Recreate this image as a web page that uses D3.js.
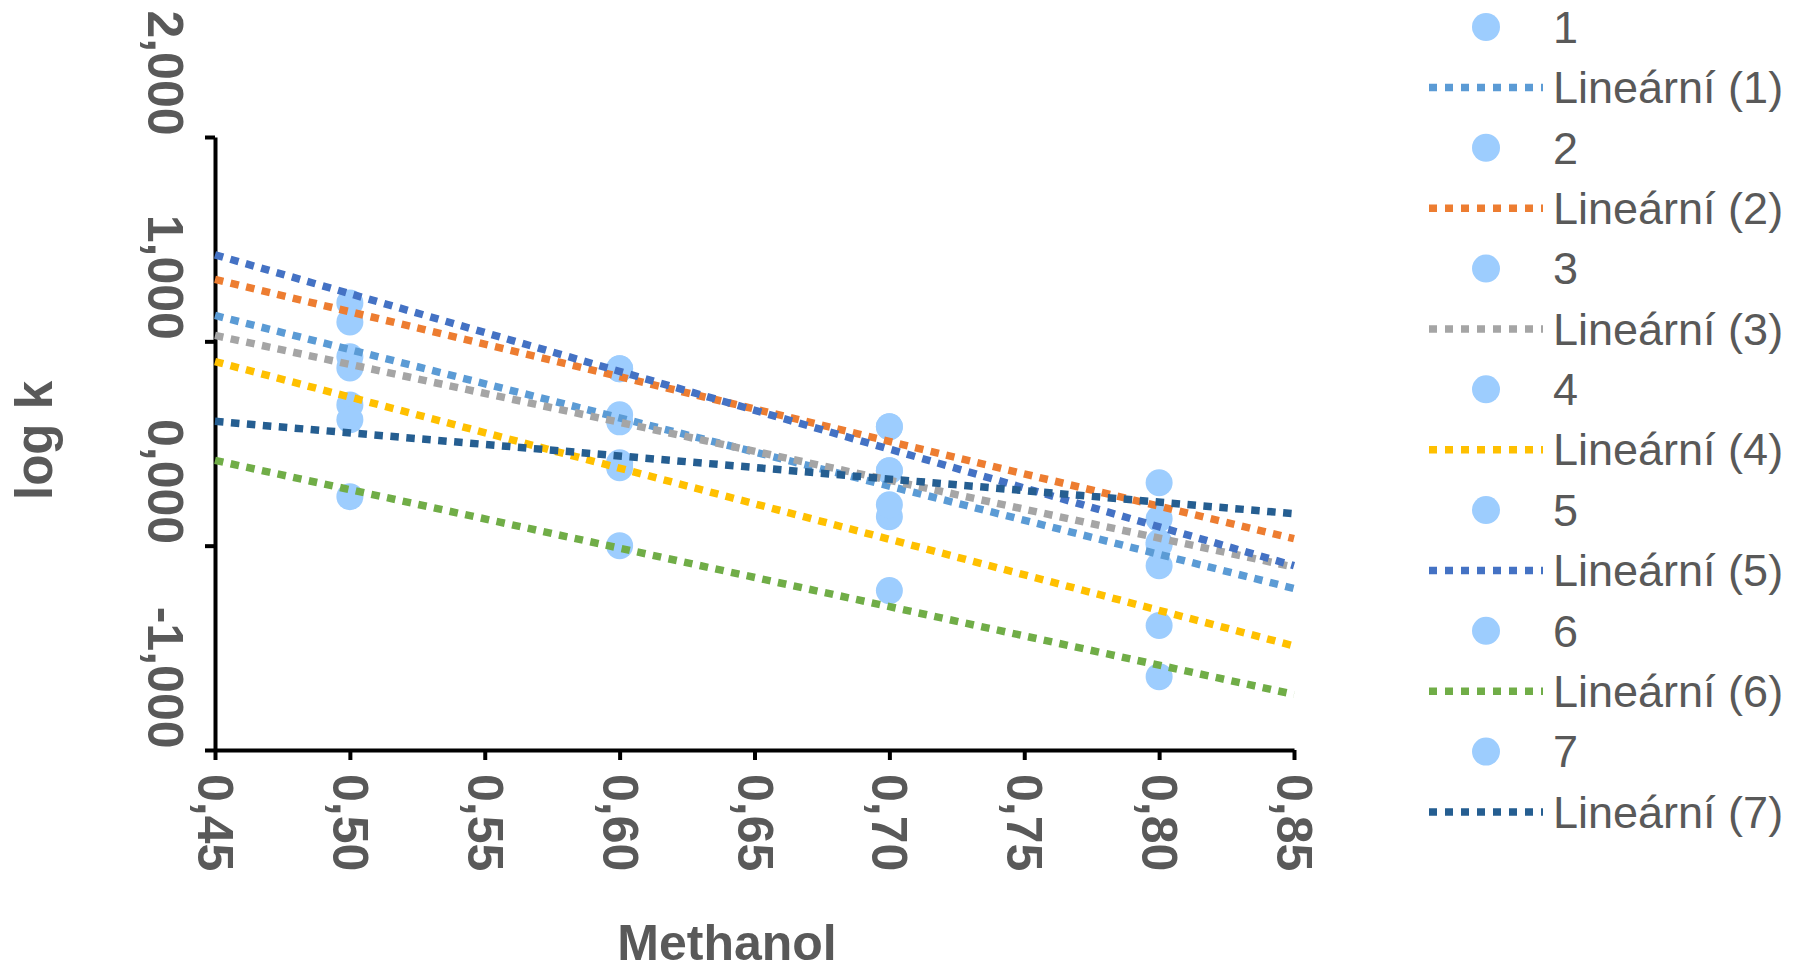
<!DOCTYPE html>
<html>
<head>
<meta charset="utf-8">
<script src="https://cdn.jsdelivr.net/npm/d3@7"></script>
<style>
  body { margin: 0; background: #fff; }
  svg { display: block; font-family: "Liberation Sans", Arial, sans-serif; }
</style>
</head>
<body>
<div id="chart"></div>
<script>
// methanol fraction, same for every series
const methanol = [0.5, 0.6, 0.7, 0.8];

// log k per series
const s1 = [0.924, 0.641, 0.367, -0.098];
const s2 = [1.095, 0.866, 0.582, 0.132];
const s3 = [0.870, 0.606, 0.367, 0.005];
const s4 = [0.689, 0.381, 0.142, -0.391];
const s5 = [1.188, 0.866, 0.582, 0.015];
const s6 = [0.240, 0.000, -0.220, -0.641];
const s7 = [0.616, 0.406, 0.200, 0.308];

const seriesNames = ["1", "2", "3", "4", "5", "6", "7"];
const seriesValues = [s1, s2, s3, s4, s5, s6, s7];
const trendColors = ["#5b9bd5", "#ed7d31", "#a5a5a5", "#ffc000", "#4472c4", "#70ad47", "#255e91"];

const xTicks = [0.45, 0.5, 0.55, 0.6, 0.65, 0.7, 0.75, 0.8, 0.85];
const yTicks = [-1, 0, 1, 2];

const W = 1800, H = 970;
const markerColor = "#9dcdfe";
const textColor = "#595959";

const locale = d3.formatLocale({ decimal: ",", thousands: " ", grouping: [3], currency: ["", ""], minus: "-" });
const fmtY = locale.format(".3f");
const fmtX = locale.format(".2f");

const svg = d3.select("#chart").append("svg")
  .attr("width", W)
  .attr("height", H);

const x = d3.scaleLinear().domain([0.45, 0.85]).range([215, 1294]);
const y = d3.scaleLinear().domain([-1, 2]).range([750, 137]);

// least squares line
function fit(xs, ys) {
  const mx = d3.mean(xs), my = d3.mean(ys);
  let sxy = 0, sxx = 0;
  xs.forEach((v, i) => { sxy += (v - mx) * (ys[i] - my); sxx += (v - mx) * (v - mx); });
  const b = sxy / sxx;
  return { a: my - b * mx, b: b };
}

// axes
const yAxis = svg.append("g")
  .attr("transform", `translate(${x(0.45)},0)`)
  .call(d3.axisLeft(y).tickValues(yTicks).tickFormat(fmtY).tickSize(10).tickSizeOuter(0));
yAxis.select(".domain").attr("stroke", "#000").attr("stroke-width", 4);
yAxis.selectAll(".tick line").attr("stroke", "#000").attr("stroke-width", 4);
yAxis.selectAll(".tick text")
  .attr("x", 0).attr("y", 0).attr("dy", null)
  .attr("text-anchor", "end")
  .attr("transform", "translate(-67,-2) rotate(90)")
  .attr("fill", textColor)
  .style("font-size", "50px")
  .style("font-weight", "bold");

const xAxis = svg.append("g")
  .attr("transform", `translate(0,${y(-1)})`)
  .call(d3.axisBottom(x).tickValues(xTicks).tickFormat(fmtX).tickSize(10).tickSizeOuter(0));
xAxis.select(".domain").attr("stroke", "#000").attr("stroke-width", 4);
xAxis.selectAll(".tick line").attr("stroke", "#000").attr("stroke-width", 4);
xAxis.selectAll(".tick text")
  .attr("x", 0).attr("y", 0).attr("dy", "0.35em")
  .attr("text-anchor", "start")
  .attr("transform", "translate(0,24) rotate(90)")
  .attr("fill", textColor)
  .style("font-size", "50px")
  .style("font-weight", "bold");

// axis titles
svg.append("text")
  .attr("transform", `translate(52,${(y(2) + y(-1)) / 2 - 3}) rotate(-90)`)
  .attr("text-anchor", "middle")
  .attr("fill", textColor)
  .style("font-size", "51px")
  .style("font-weight", "bold")
  .text("log k");

svg.append("text")
  .attr("x", 727)
  .attr("y", 960)
  .attr("text-anchor", "middle")
  .attr("fill", textColor)
  .style("font-size", "50px")
  .style("font-weight", "bold")
  .text("Methanol");

// markers
const plot = svg.append("g");
seriesValues.forEach((vals) => {
  plot.selectAll(null)
    .data(vals)
    .join("circle")
    .attr("cx", (d, i) => x(methanol[i]))
    .attr("cy", (d) => y(d))
    .attr("r", 13.5)
    .attr("fill", markerColor);
});

// linear trendlines over whole x range
seriesValues.forEach((vals, k) => {
  const f = fit(methanol, vals);
  const ends = x.domain();
  plot.append("line")
    .attr("x1", x(ends[0]))
    .attr("y1", y(f.a + f.b * ends[0]))
    .attr("x2", x(ends[1]))
    .attr("y2", y(f.a + f.b * ends[1]))
    .attr("stroke", trendColors[k])
    .attr("stroke-width", 7.5)
    .attr("stroke-dasharray", "8.5 7.5");
});

// legend
const legendItems = [];
seriesNames.forEach((n, k) => {
  legendItems.push({ type: "marker", label: n });
  legendItems.push({ type: "trend", label: `Lineární (${n})`, color: trendColors[k] });
});
const rowY = d3.scalePoint().domain(d3.range(legendItems.length)).range([27, 812]);

const legend = svg.append("g");
const rows = legend.selectAll("g")
  .data(legendItems)
  .join("g")
  .attr("transform", (d, i) => `translate(0,${rowY(i)})`);

rows.filter((d) => d.type === "marker")
  .append("circle")
  .attr("cx", 1486)
  .attr("r", 14)
  .attr("fill", markerColor);

rows.filter((d) => d.type === "trend")
  .append("line")
  .attr("x1", 1429)
  .attr("x2", 1543)
  .attr("stroke", (d) => d.color)
  .attr("stroke-width", 7.5)
  .attr("stroke-dasharray", "8 8");

rows.append("text")
  .attr("x", 1553)
  .attr("dy", "0.35em")
  .attr("fill", textColor)
  .style("font-size", "45px")
  .text((d) => d.label);
</script>
</body>
</html>
